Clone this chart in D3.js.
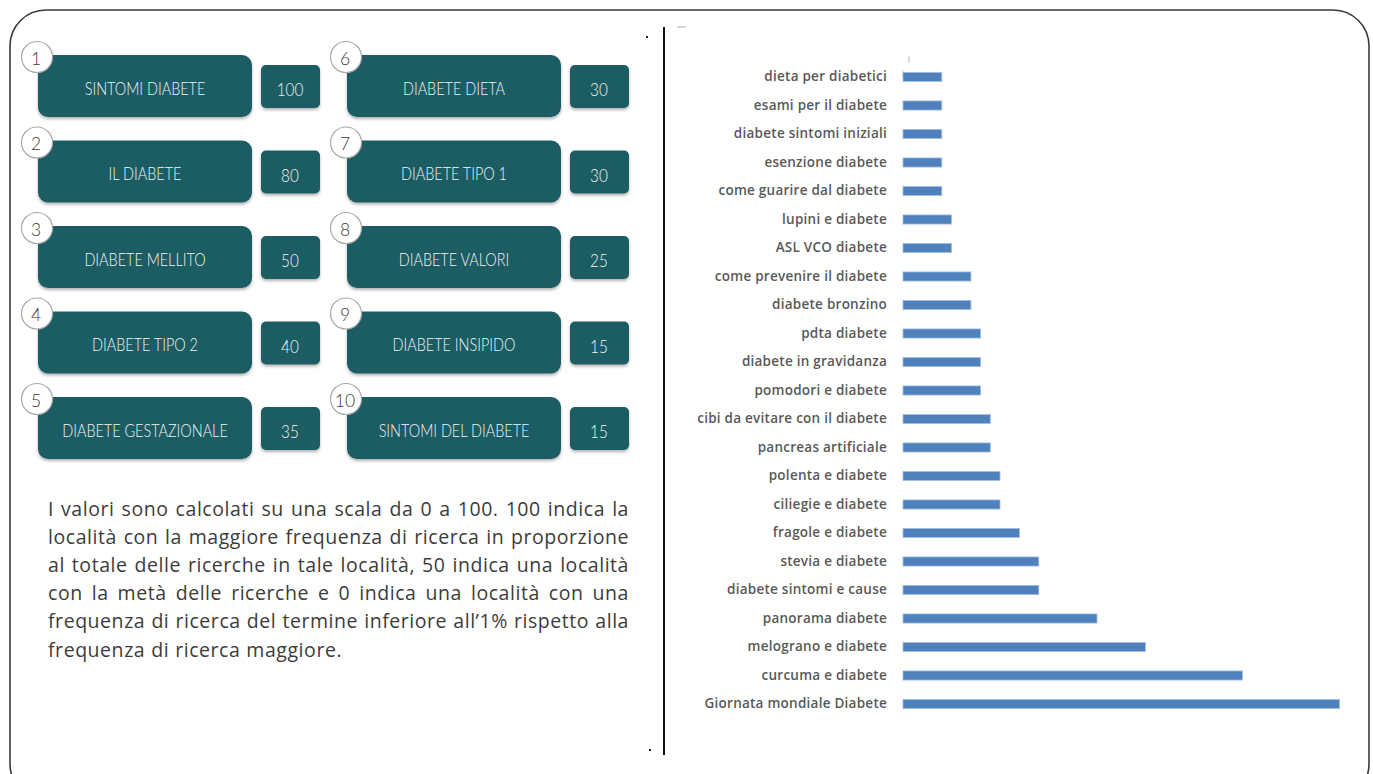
<!DOCTYPE html>
<html>
<head>
<meta charset="utf-8">
<script src="https://cdn.jsdelivr.net/npm/d3@7/dist/d3.min.js"></script>
<style>
  html, body { margin: 0; padding: 0; background: #ffffff; }
  svg { display: block; }
</style>
</head>
<body>
<svg id="chart" width="1373" height="774"></svg>
<script>
// Top-10 search terms (rank, term, score 0-100)
const topRanks = [1, 2, 3, 4, 5, 6, 7, 8, 9, 10];
const topTerms = [
  "SINTOMI DIABETE", "IL DIABETE", "DIABETE MELLITO", "DIABETE TIPO 2", "DIABETE GESTAZIONALE",
  "DIABETE DIETA", "DIABETE TIPO 1", "DIABETE VALORI", "DIABETE INSIPIDO", "SINTOMI DEL DIABETE"
];
const topScores = [100, 80, 50, 40, 35, 30, 30, 25, 15, 15];

// Rising queries shown in the bar chart (top to bottom)
const risingTerms = [
  "dieta per diabetici", "esami per il diabete", "diabete sintomi iniziali", "esenzione diabete",
  "come guarire dal diabete", "lupini e diabete", "ASL VCO diabete", "come prevenire il diabete",
  "diabete bronzino", "pdta diabete", "diabete in gravidanza", "pomodori e diabete",
  "cibi da evitare con il diabete", "pancreas artificiale", "polenta e diabete", "ciliegie e diabete",
  "fragole e diabete", "stevia e diabete", "diabete sintomi e cause", "panorama diabete",
  "melograno e diabete", "curcuma e diabete", "Giornata mondiale Diabete"
];
const risingValues = [4, 4, 4, 4, 4, 5, 5, 7, 7, 8, 8, 8, 9, 9, 10, 10, 12, 14, 14, 20, 25, 35, 45];

// Explanatory note, one entry per printed line
const noteLines = [
  "I valori sono calcolati su una scala da 0 a 100. 100 indica la",
  "località con la maggiore frequenza di ricerca in proporzione",
  "al totale delle ricerche in tale località, 50 indica una località",
  "con la metà delle ricerche e 0 indica una località con una",
  "frequenza di ricerca del termine inferiore all’1% rispetto alla",
  "frequenza di ricerca maggiore."
];

const svg = d3.select("#chart");

// soft shadow under the tiles
const defs = svg.append("defs");
const sh = defs.append("filter").attr("id", "tileShadow")
  .attr("x", "-10%").attr("y", "-10%").attr("width", "120%").attr("height", "140%");
sh.append("feDropShadow").attr("dx", 0).attr("dy", 2).attr("stdDeviation", 1.4)
  .attr("flood-color", "#000").attr("flood-opacity", 0.3);

// outer rounded frame
svg.append("rect")
  .attr("x", 10).attr("y", 10).attr("width", 1359).attr("height", 790)
  .attr("rx", 36).attr("ry", 36)
  .attr("fill", "none").attr("stroke", "#3a3a3a").attr("stroke-width", 1.6);

// divider between the two panels
svg.append("line")
  .attr("x1", 664).attr("x2", 664).attr("y1", 27).attr("y2", 755)
  .attr("stroke", "#111").attr("stroke-width", 2);
svg.append("rect").attr("x", 646).attr("y", 36).attr("width", 2).attr("height", 2).attr("fill", "#222");
svg.append("rect").attr("x", 649).attr("y", 749).attr("width", 2).attr("height", 2).attr("fill", "#222");

// ---------- left panel: ranked tiles ----------
const tileColor = "#1e5b63";
const colX = d3.scaleOrdinal().domain([0, 1]).range([38, 347]);
const rowY = d3.scaleLinear().domain([0, 4]).range([55, 397]);

const tiles = svg.append("g").attr("class", "tiles")
  .selectAll("g.tile")
  .data(topRanks.map((r, i) => ({ rank: r, term: topTerms[i], score: topScores[i], col: Math.floor(i / 5), row: i % 5 })))
  .join("g")
  .attr("class", "tile")
  .attr("transform", d => `translate(${colX(d.col)},${rowY(d.row)})`);

tiles.append("rect")
  .attr("x", 0).attr("y", 0).attr("width", 214).attr("height", 62)
  .attr("rx", 10).attr("fill", tileColor).attr("filter", "url(#tileShadow)");

tiles.append("rect")
  .attr("x", 223).attr("y", 10).attr("width", 59).attr("height", 43)
  .attr("rx", 5).attr("fill", tileColor).attr("filter", "url(#tileShadow)");

tiles.append("text")
  .attr("transform", "translate(107,33) scale(0.78,1)")
  .attr("text-anchor", "middle").attr("dominant-baseline", "central")
  .attr("font-family", "Lato, 'Open Sans', sans-serif").attr("font-size", 18.5)
  .attr("font-weight", 300)
  .attr("fill", "#f2f4f4")
  .text(d => d.term);

tiles.append("text")
  .attr("x", 252).attr("y", 35)
  .attr("text-anchor", "middle").attr("dominant-baseline", "central")
  .attr("font-family", "Lato, 'Open Sans', sans-serif").attr("font-size", 18)
  .attr("font-weight", 300)
  .attr("fill", "#f2f4f4")
  .attr("transform", "translate(252,0) scale(0.85,1) translate(-252,0)")
  .text(d => d.score);

tiles.append("circle")
  .attr("cx", -1).attr("cy", 2).attr("r", 15.5)
  .attr("fill", "#ffffff").attr("stroke", "#a9a9a9").attr("stroke-width", 1.2);

tiles.append("text")
  .attr("x", -2).attr("y", 3)
  .attr("text-anchor", "middle").attr("dominant-baseline", "central")
  .attr("font-family", "Lato, 'Open Sans', sans-serif").attr("font-size", 17.5)
  .attr("font-weight", 300)
  .attr("fill", "#3a3a3a")
  .text(d => d.rank);

// ---------- left panel: justified note ----------
const note = svg.append("g").attr("class", "note");
const noteLeft = 48, noteRight = 629, noteBase = 516, noteLead = 28.1;
noteLines.forEach((line, i) => {
  const words = line.split(" ");
  const t = note.append("text")
    .attr("y", noteBase + i * noteLead)
    .attr("font-family", "'Open Sans', sans-serif")
    .attr("font-weight", 400)
    .attr("font-size", 19.5)
    .attr("letter-spacing", 0.55)
    .attr("fill", "#3c3c3c");
  const spans = words.map(w => t.append("tspan").text(w));
  const widths = spans.map(s => s.node().getComputedTextLength());
  const total = d3.sum(widths);
  const isLast = i === noteLines.length - 1;
  const gap = isLast ? 6 : (noteRight - noteLeft - total) / (words.length - 1);
  let x = noteLeft;
  spans.forEach((s, k) => { s.attr("x", x); x += widths[k] + gap; });
});

// ---------- right panel: horizontal bar chart ----------
const x = d3.scaleLinear().domain([0, 45]).range([903, 1339.5]);
const y = d3.scaleBand().domain(risingTerms).range([62.75, 718.25])
  .paddingInner(0.68).paddingOuter(0.34);

const chart = svg.append("g").attr("class", "bars");

// faint remnants of the value axis
chart.append("line").attr("x1", 677).attr("x2", 686).attr("y1", 27).attr("y2", 27)
  .attr("stroke", "#c8c8c8").attr("stroke-width", 1.5);
chart.append("line").attr("x1", 909).attr("x2", 909).attr("y1", 56).attr("y2", 63)
  .attr("stroke", "#cfcfcf").attr("stroke-width", 1.5);
chart.append("line").attr("x1", x(0)).attr("x2", x(0)).attr("y1", 70).attr("y2", 77)
  .attr("stroke", "#cfcfcf").attr("stroke-width", 1);

chart.selectAll("rect.bar")
  .data(risingTerms.map((t, i) => ({ term: t, value: risingValues[i] })))
  .join("rect")
  .attr("class", "bar")
  .attr("x", x(0))
  .attr("y", d => y(d.term))
  .attr("width", d => x(d.value) - x(0))
  .attr("height", y.bandwidth())
  .attr("fill", "#4f81bd")
  .attr("stroke", "#a3bde0").attr("stroke-width", 0.8);

const yAxis = d3.axisLeft(y).tickSize(0).tickPadding(0);
const ax = chart.append("g").attr("transform", "translate(887,0)").call(yAxis);
ax.select(".domain").remove();
ax.selectAll("text")
  .attr("font-family", "'Open Sans', sans-serif")
  .attr("font-weight", 600)
  .attr("font-size", 13.5)
  .attr("letter-spacing", 0.25)
  .attr("fill", "#595959");
</script>
</body>
</html>
